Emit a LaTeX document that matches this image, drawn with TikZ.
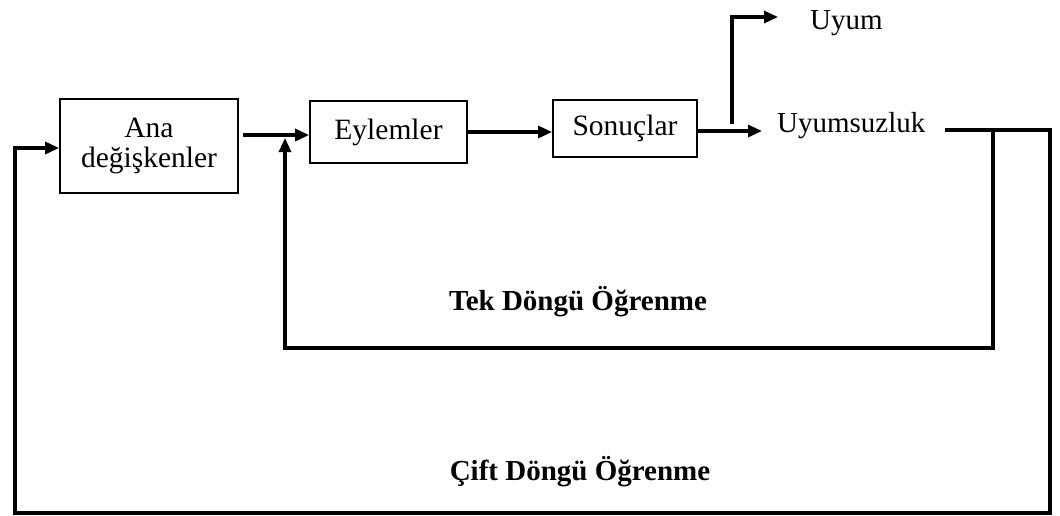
\documentclass[tikz,border=0pt]{standalone}
\usepackage{fontspec}
\setmainfont{Liberation Serif}
\usetikzlibrary{arrows.meta,calc}
\begin{document}
\begin{tikzpicture}[x=1pt,y=-1pt,
  box/.style={draw, line width=1.8pt, inner sep=0pt, align=center, font=\fontsize{29.5}{34}\selectfont},
  lbl/.style={inner sep=0pt, font=\fontsize{29}{34}\selectfont},
  ttl/.style={inner sep=0pt, font=\bfseries\fontsize{29}{34}\selectfont},
  ln/.style={line width=3.2pt, line join=miter},
  arr/.style={ln, -{Triangle[length=14pt,width=12pt]}}]
\useasboundingbox[fill=white] (0,0) rectangle (1060,515);
\node[box, minimum width=178pt, minimum height=94pt] (ana) at (149,146) {Ana\\[-4pt]değişkenler};
\node[box, minimum width=157pt, minimum height=62pt] (eyl) at (388.5,132) {Eylemler};
\node[box, minimum width=144pt, minimum height=57pt] (son) at (625,128.5) {Sonuçlar};
\node[lbl, anchor=west] (uyz) at (777,126) {Uyumsuzluk};
\node[lbl, anchor=west] (uyum) at (810,23) {Uyum};
\node[ttl] (tek) at (578,302) {Tek Döngü Öğrenme};
\node[ttl] (cift) at (580,472) {Çift Döngü Öğrenme};
% junction coordinates
\coordinate (j1) at (285,135);
\coordinate (b1) at (732,124);
\coordinate (b2) at (732,17);
\coordinate (r0) at (945,130);
\coordinate (r1) at (993,130);
\coordinate (r2) at (1050,130);
\coordinate (r3) at (1050,513);
\coordinate (r4) at (993,348);
\coordinate (r5) at (285,348);
\coordinate (l1) at (15,513);
\coordinate (l2) at (15,148);
% forward arrows
\draw[arr, shorten <=4pt] (ana.east |- j1) -- (eyl.west |- j1);
\draw[arr] (eyl.east |- 0,132) -- (son.west |- 0,132);
\draw[arr] (son.east |- 0,131) -- (762,131);
\draw[arr] (b1) -- (b2) -- ($(uyum.west |- b2)+(-32,0)$);
% feedback loops
\draw[arr] (r0) -- (r2) -- (r3) -- (l1) -- (l2) -- (ana.west |- l2);
\draw[arr] (r1) -- (r4) -- (r5) -- ($(j1)+(0,3)$);
\end{tikzpicture}
\end{document}
